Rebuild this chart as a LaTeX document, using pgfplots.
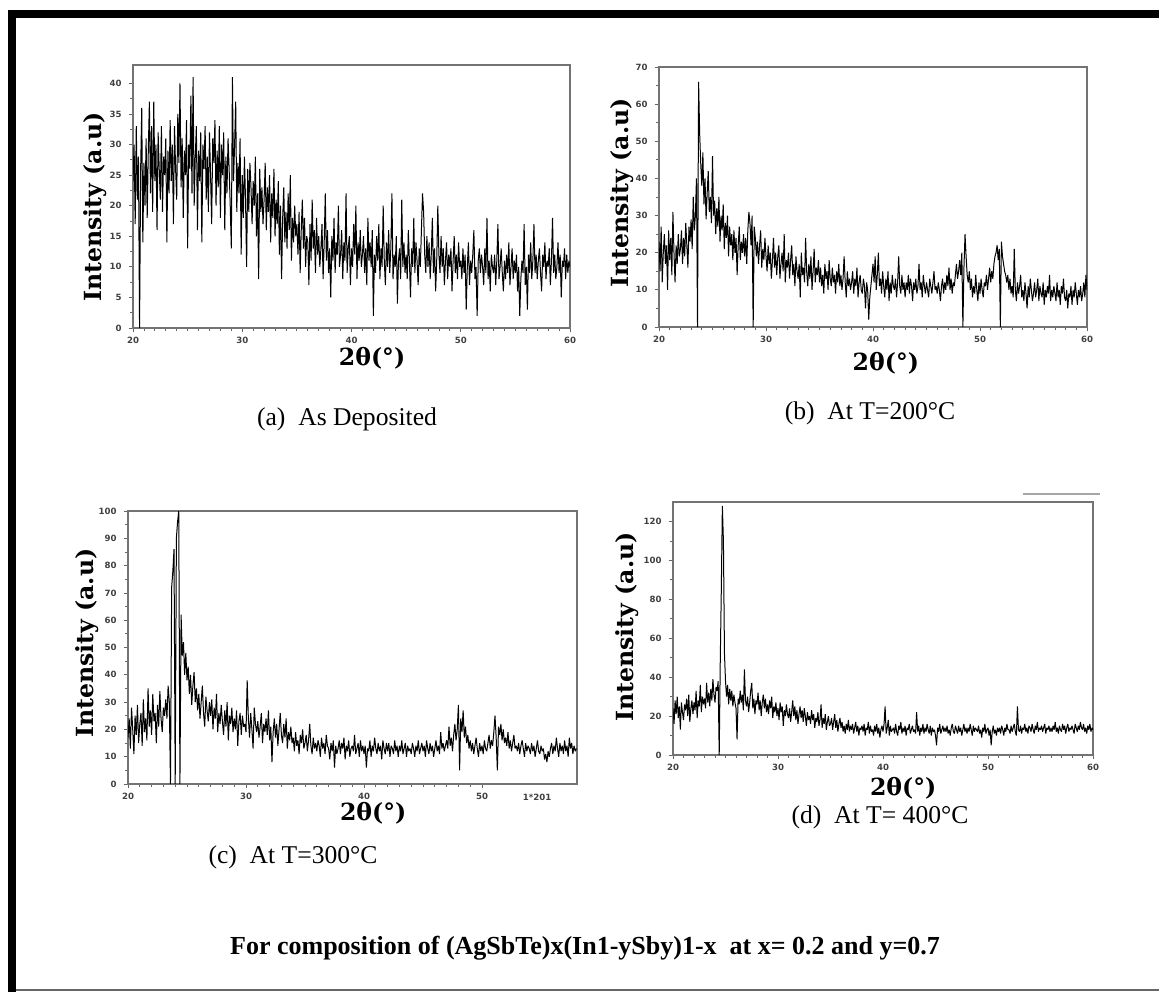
\documentclass[border=0pt]{standalone}
\usepackage{fontspec}
\setmainfont{Liberation Serif}
\newfontfamily\labfont{DejaVu Serif}
\newfontfamily\tickfont{DejaVu Sans}
\usepackage{pgfplots}
\usepackage{pgfplotstable}
\pgfplotsset{compat=1.18}

% intensities, one value every 0.1 degree from 2theta = 20
\pgfplotstableread[header=false,row sep=\\]{
24\\30\\17\\33\\21\\28\\0\\26\\36\\14\\
27\\20\\31\\18\\29\\37\\22\\33\\19\\37\\
24\\30\\16\\32\\26\\21\\33\\19\\28\\25\\
31\\14\\29\\22\\34\\24\\30\\17\\33\\26\\
21\\35\\27\\40\\23\\31\\18\\29\\25\\34\\
13\\30\\26\\38\\22\\41\\20\\28\\33\\16\\
29\\24\\32\\14\\30\\26\\33\\21\\28\\19\\
32\\25\\17\\31\\27\\34\\20\\29\\23\\33\\
18\\30\\25\\32\\16\\28\\22\\31\\26\\20\\
13\\41\\24\\30\\37\\19\\27\\22\\31\\12\\
25\\18\\28\\21\\10\\26\\19\\27\\23\\17\\
24\\20\\28\\15\\22\\8\\26\\19\\23\\17\\
21\\27\\16\\23\\19\\25\\14\\22\\18\\26\\
15\\21\\17\\24\\12\\20\\8\\18\\23\\14\\
19\\13\\22\\16\\25\\11\\18\\14\\20\\15\\
17\\12\\19\\9\\16\\21\\13\\18\\10\\15\\
14\\7\\17\\11\\21\\13\\16\\9\\18\\12\\
15\\10\\13\\17\\8\\14\\22\\11\\16\\9\\
13\\5\\15\\11\\18\\9\\14\\12\\20\\10\\
12\\16\\8\\14\\11\\22\\9\\13\\15\\7\\
13\\10\\17\\12\\20\\8\\14\\11\\16\\10\\
12\\15\\9\\13\\7\\18\\11\\14\\10\\16\\
2\\12\\9\\15\\11\\17\\8\\13\\10\\20\\
11\\7\\14\\10\\16\\9\\13\\22\\8\\12\\
10\\15\\4\\11\\13\\8\\21\\10\\14\\9\\
12\\8\\16\\11\\5\\13\\10\\18\\9\\14\\
11\\7\\13\\10\\16\\22\\19\\12\\9\\15\\
10\\14\\8\\12\\18\\9\\13\\6\\11\\20\\
12\\9\\15\\10\\13\\7\\11\\14\\8\\12\\
10\\13\\6\\11\\15\\9\\12\\8\\14\\10\\
11\\8\\13\\9\\12\\3\\10\\14\\7\\11\\
9\\12\\16\\8\\10\\2\\11\\13\\9\\12\\
10\\7\\13\\9\\18\\8\\11\\6\\12\\10\\
9\\12\\7\\11\\17\\8\\10\\13\\9\\6\\
11\\8\\12\\9\\14\\7\\10\\13\\8\\11\\
9\\12\\6\\10\\2\\8\\11\\9\\17\\7\\
10\\3\\12\\9\\14\\8\\11\\17\\9\\12\\
8\\11\\13\\9\\6\\12\\10\\14\\8\\11\\
10\\13\\7\\11\\18\\9\\12\\8\\10\\14\\
9\\12\\5\\11\\10\\13\\8\\12\\9\\11\\
10\\
}\dataA

\pgfplotstableread[header=false,row sep=\\]{
23\\15\\27\\12\\20\\25\\17\\22\\10\\26\\
18\\24\\14\\31\\20\\12\\22\\17\\25\\19\\
21\\26\\17\\24\\19\\28\\22\\16\\27\\23\\
29\\21\\35\\26\\30\\40\\0\\66\\52\\44\\
38\\47\\33\\40\\29\\36\\42\\31\\35\\28\\
46\\30\\34\\25\\32\\27\\35\\23\\30\\26\\
33\\21\\28\\24\\30\\19\\27\\22\\25\\18\\
26\\20\\24\\14\\22\\27\\18\\23\\20\\25\\
19\\24\\17\\26\\31\\28\\22\\30\\0\\27\\
24\\19\\23\\17\\22\\26\\16\\21\\18\\24\\
19\\15\\22\\17\\20\\13\\18\\24\\16\\20\\
14\\19\\22\\13\\17\\20\\15\\25\\12\\18\\
16\\20\\13\\18\\22\\14\\17\\11\\19\\15\\
13\\17\\8\\20\\14\\16\\12\\24\\15\\11\\
17\\13\\19\\10\\15\\21\\12\\16\\14\\18\\
12\\16\\11\\14\\9\\17\\13\\15\\10\\18\\
13\\11\\16\\12\\14\\9\\15\\12\\17\\11\\
14\\10\\13\\19\\12\\8\\15\\11\\13\\10\\
12\\15\\9\\13\\11\\16\\8\\12\\14\\10\\
9\\13\\11\\5\\12\\10\\2\\8\\11\\14\\
17\\12\\19\\10\\14\\20\\11\\13\\9\\15\\
11\\8\\13\\10\\15\\7\\12\\9\\14\\11\\
10\\13\\8\\12\\19\\11\\9\\14\\10\\12\\
8\\12\\10\\14\\9\\13\\11\\7\\12\\10\\
13\\9\\11\\17\\10\\12\\8\\14\\11\\9\\
12\\10\\8\\13\\11\\9\\12\\15\\10\\11\\
9\\12\\10\\7\\11\\13\\9\\12\\10\\14\\
11\\16\\10\\13\\9\\12\\11\\14\\17\\13\\
15\\18\\14\\20\\0\\16\\25\\19\\14\\12\\
15\\10\\13\\8\\11\\9\\14\\10\\7\\12\\
9\\13\\10\\8\\12\\11\\14\\10\\13\\16\\
12\\15\\13\\17\\19\\20\\22\\18\\21\\0\\
23\\19\\17\\15\\14\\12\\14\\10\\13\\9\\
11\\8\\21\\10\\7\\12\\9\\11\\14\\8\\
10\\7\\12\\9\\5\\11\\8\\13\\10\\7\\
9\\12\\8\\10\\13\\7\\11\\9\\8\\12\\
6\\10\\8\\11\\9\\14\\7\\10\\8\\11\\
9\\7\\12\\8\\10\\6\\11\\9\\13\\8\\
7\\10\\5\\9\\8\\11\\6\\10\\8\\12\\
9\\6\\10\\8\\11\\7\\9\\12\\8\\14\\
10\\
}\dataB

\pgfplotstableread[header=false,row sep=\\]{
17\\24\\13\\28\\20\\11\\25\\18\\29\\15\\
22\\26\\14\\31\\19\\24\\16\\35\\21\\27\\
18\\33\\23\\26\\15\\29\\21\\34\\24\\19\\
28\\25\\31\\24\\36\\30\\0\\72\\78\\86\\
0\\90\\96\\100\\0\\62\\47\\52\\40\\48\\
38\\43\\33\\40\\29\\36\\41\\30\\35\\27\\
33\\24\\30\\36\\26\\21\\32\\27\\23\\30\\
25\\31\\20\\28\\24\\33\\19\\26\\22\\29\\
23\\18\\27\\21\\30\\16\\25\\22\\28\\19\\
24\\20\\27\\14\\23\\26\\18\\25\\21\\22\\
19\\38\\24\\17\\26\\20\\13\\28\\22\\19\\
23\\17\\21\\26\\15\\22\\19\\24\\18\\27\\
16\\21\\8\\19\\24\\17\\22\\14\\20\\26\\
18\\15\\22\\17\\24\\13\\19\\16\\21\\15\\
17\\12\\19\\14\\16\\11\\18\\15\\20\\13\\
15\\18\\12\\16\\22\\14\\11\\17\\13\\15\\
12\\16\\14\\10\\17\\13\\15\\11\\18\\14\\
13\\9\\15\\12\\16\\6\\14\\11\\13\\16\\
11\\15\\13\\17\\9\\14\\12\\16\\10\\13\\
14\\12\\18\\11\\13\\15\\10\\16\\12\\14\\
11\\14\\6\\13\\12\\16\\10\\14\\12\\17\\
13\\11\\15\\12\\14\\9\\16\\13\\11\\15\\
12\\15\\10\\14\\13\\11\\16\\12\\14\\10\\
14\\12\\16\\11\\13\\15\\10\\14\\12\\13\\
11\\15\\13\\10\\14\\12\\16\\11\\13\\15\\
12\\14\\10\\16\\13\\11\\15\\12\\14\\10\\
13\\16\\12\\14\\11\\19\\13\\15\\12\\14\\
16\\13\\21\\14\\17\\12\\18\\22\\16\\20\\
29\\5\\24\\19\\27\\17\\21\\15\\18\\13\\
16\\12\\15\\11\\14\\17\\13\\10\\15\\12\\
14\\11\\16\\13\\12\\15\\18\\13\\16\\14\\
19\\25\\17\\5\\21\\18\\22\\16\\20\\15\\
17\\14\\19\\13\\16\\12\\15\\18\\13\\14\\
12\\15\\11\\14\\16\\13\\10\\15\\12\\14\\
13\\11\\15\\12\\14\\10\\13\\16\\12\\11\\
14\\12\\13\\9\\11\\8\\12\\10\\13\\15\\
11\\14\\12\\17\\13\\10\\15\\12\\14\\11\\
16\\12\\14\\10\\17\\13\\15\\11\\14\\12\\
13\\
}\dataC

\pgfplotstableread[header=false,row sep=\\]{
24\\16\\28\\21\\30\\19\\25\\13\\27\\22\\
18\\26\\23\\29\\20\\31\\17\\24\\28\\21\\
27\\23\\33\\19\\28\\25\\36\\22\\30\\26\\
29\\24\\37\\27\\32\\25\\34\\28\\39\\31\\
27\\35\\33\\38\\0\\48\\85\\128\\110\\52\\
38\\30\\36\\26\\34\\28\\33\\25\\31\\27\\
24\\8\\29\\26\\33\\27\\31\\23\\44\\28\\
25\\30\\22\\27\\33\\37\\24\\29\\21\\28\\
26\\32\\23\\28\\20\\27\\31\\24\\29\\22\\
26\\21\\28\\24\\30\\19\\25\\22\\27\\20\\
24\\18\\27\\22\\25\\15\\23\\20\\26\\21\\
19\\24\\17\\22\\28\\20\\25\\18\\23\\16\\
21\\25\\19\\23\\17\\24\\20\\15\\22\\18\\
20\\16\\23\\18\\21\\14\\19\\17\\22\\15\\
18\\26\\14\\19\\16\\21\\13\\17\\20\\15\\
16\\19\\13\\17\\21\\14\\18\\12\\16\\19\\
14\\17\\12\\15\\11\\16\\13\\18\\12\\15\\
13\\16\\11\\14\\17\\12\\15\\10\\14\\13\\
15\\12\\16\\10\\14\\13\\17\\11\\15\\12\\
13\\10\\15\\12\\16\\11\\14\\9\\13\\15\\
12\\16\\25\\11\\14\\18\\10\\15\\12\\13\\
14\\11\\16\\12\\10\\15\\13\\17\\11\\14\\
12\\15\\10\\14\\13\\16\\11\\13\\15\\12\\
13\\11\\22\\12\\15\\10\\14\\12\\16\\11\\
14\\12\\16\\13\\11\\15\\10\\14\\12\\13\\
10\\5\\14\\12\\16\\11\\13\\15\\12\\14\\
12\\15\\11\\13\\10\\14\\16\\12\\11\\15\\
13\\11\\15\\12\\14\\10\\13\\16\\12\\14\\
11\\14\\12\\16\\13\\10\\15\\12\\14\\13\\
12\\15\\11\\13\\9\\14\\12\\16\\11\\13\\
14\\10\\13\\5\\12\\15\\11\\13\\10\\14\\
12\\14\\11\\15\\13\\10\\14\\12\\16\\13\\
13\\11\\15\\12\\14\\16\\12\\10\\25\\13\\
12\\15\\11\\14\\13\\16\\12\\14\\11\\15\\
14\\12\\16\\13\\11\\15\\13\\17\\12\\14\\
13\\15\\12\\14\\16\\11\\14\\13\\15\\12\\
14\\12\\15\\13\\17\\12\\14\\11\\15\\13\\
12\\16\\13\\15\\11\\14\\16\\12\\14\\13\\
15\\13\\11\\16\\14\\12\\15\\13\\17\\14\\
13\\16\\12\\14\\11\\15\\13\\16\\12\\14\\
13\\
}\dataD

\pgfplotsset{
  xrd/.style={
    scale only axis,
    xmin=20, xmax=60, ymin=0,
    axis line style={black!55, line width=0.75pt},
    xtick={20,30,40,50,60},
    minor x tick num=9,
    minor y tick num=1,
    tick pos=left,
    tick align=outside,
    major tick length=2.2pt,
    minor tick length=1.3pt,
    tick style={black!60, line width=0.4pt},
    tick label style={font=\fontsize{4.3}{4.8}\selectfont\tickfont\bfseries, text=black!75},
    xticklabel style={yshift=1pt},
    /pgf/number format/assume math mode=true,
    label style={font=\fontsize{11.8}{13}\selectfont\labfont\bfseries},
    xlabel={2θ(°)},
    ylabel={Intensity (a.u)},
    clip=true,
  },
  trace/.style={black, line width=0.5pt, no markers, line join=bevel},
}

\begin{document}
\begin{tikzpicture}
\useasboundingbox (0pt,0pt) rectangle (579.5pt,496pt);
% frame of the figure
\fill[black] (4pt,0pt) rectangle (8pt,491pt);
\fill[black] (4pt,487pt) rectangle (579.5pt,491pt);
\draw[black!60, line width=0.8pt] (8pt,1pt) -- (579.5pt,1pt);

% (a) as deposited
\begin{axis}[xrd, at={(66.5pt,332pt)}, anchor=south west,
  width=218.5pt, height=131.5pt, ymax=43,
  ytick={0,5,...,40},
  ylabel style={at={(axis description cs:-0.087,0.46)}, anchor=center},
  xlabel style={at={(axis description cs:0.547,-0.114)}, anchor=center}]
\addplot[trace] table[x expr=20+0.1*\coordindex, y index=0]{\dataA};
\end{axis}

% (b) 200 C
\begin{axis}[xrd, at={(329.5pt,332.5pt)}, anchor=south west,
  width=214pt, height=130pt, ymax=70,
  ytick={0,10,...,70},
  ylabel style={at={(axis description cs:-0.086,0.515)}, anchor=center},
  xlabel style={at={(axis description cs:0.53,-0.138)}, anchor=center}]
\addplot[trace] table[x expr=20+0.1*\coordindex, y index=0]{\dataB};
\end{axis}

% (c) 300 C
\begin{axis}[xrd, at={(64pt,104pt)}, anchor=south west,
  width=224.5pt, height=136.5pt, xmax=58.05, ymax=100,
  xtick={20,30,40,50},
  ytick={0,10,...,100},
  ylabel style={at={(axis description cs:-0.091,0.516)}, anchor=center},
  xlabel style={at={(axis description cs:0.546,-0.106)}, anchor=center}]
\addplot[trace] table[x expr=20+0.1*\coordindex, y index=0]{\dataC};
\end{axis}

% (d) 400 C
\begin{axis}[xrd, at={(336.5pt,118.5pt)}, anchor=south west,
  width=210pt, height=126.5pt, ymax=130,
  ytick={0,20,...,120},
  ylabel style={at={(axis description cs:-0.11,0.506)}, anchor=center},
  xlabel style={at={(axis description cs:0.548,-0.13)}, anchor=center}]
\addplot[trace] table[x expr=20+0.1*\coordindex, y index=0]{\dataD};
\end{axis}

\node[font=\fontsize{4.3}{4.8}\selectfont\tickfont\bfseries, text=black!75] at (268.5pt,97.5pt) {1*201};
\draw[black!35, line width=0.6pt] (511.5pt,249pt) -- (550pt,249pt);

% captions
\begin{scope}[every node/.style={font=\fontsize{12.8}{15}\selectfont}]
\node at (173.5pt,286.5pt) {(a)\ \ As Deposited};
\node at (435pt,289.5pt) {(b)\ \ At T=200°C};
\node at (146.5pt,67.5pt) {(c)\ \ At T=300°C};
\node at (440pt,87.5pt) {(d)\ \ At T= 400°C};
\end{scope}
\node[font=\fontsize{13}{15}\selectfont\bfseries] at (292.5pt,22pt)
  {For composition of (AgSbTe)x(In1-ySby)1-x\ \ at x= 0.2 and y=0.7};
\end{tikzpicture}
\end{document}
